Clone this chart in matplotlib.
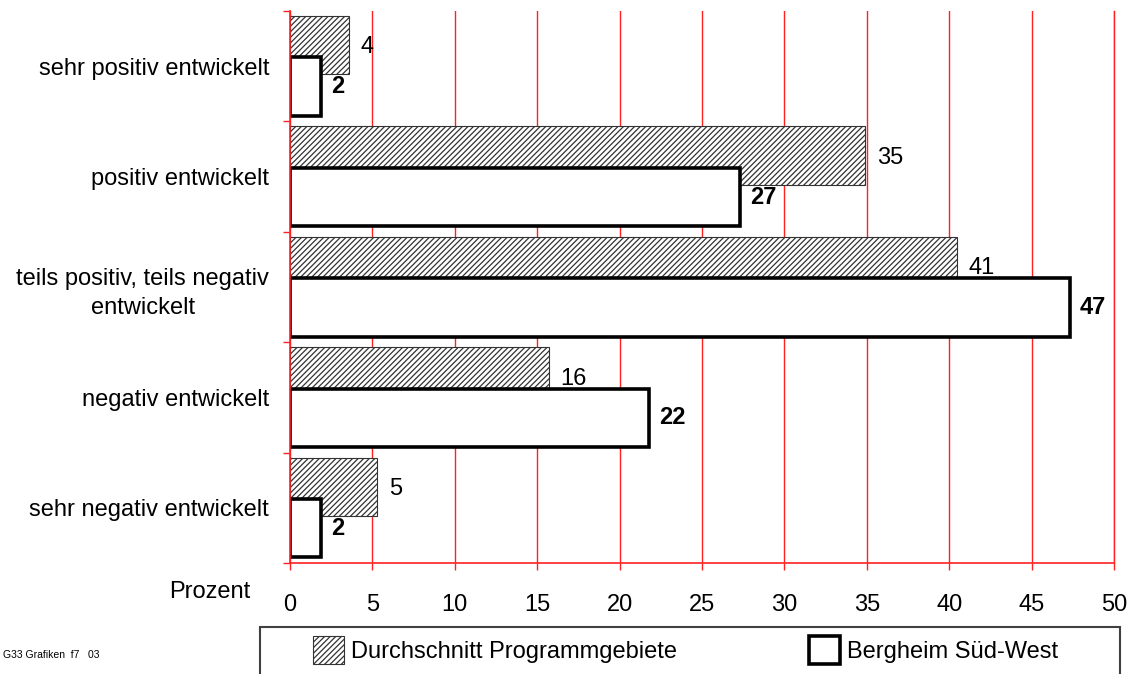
import numpy as np
import matplotlib
matplotlib.use('Agg')
import matplotlib.pyplot as plt
from matplotlib import rcParams
from matplotlib.patches import Rectangle

rcParams['font.family'] = ['Liberation Sans', 'DejaVu Sans']
rcParams['hatch.linewidth'] = 0.9

categories = ['sehr positiv entwickelt', 'positiv entwickelt',
              'teils positiv, teils negativ\nentwickelt', 'negativ entwickelt',
              'sehr negativ entwickelt']
avg_values = [3.6, 34.9, 40.5, 15.7, 5.3]      # Durchschnitt Programmgebiete
avg_labels = ['4', '35', '41', '16', '5']
bsw_values = [1.9, 27.3, 47.3, 21.8, 1.9]      # Bergheim Sued-West
bsw_labels = ['2', '27', '47', '22', '2']
xticks = np.arange(0, 55, 5)

fs = 17
red = '#ff2020'

fig = plt.figure(figsize=(11.36, 6.74), dpi=100)
ax = fig.add_axes([290/1136, 1-563/674, 824/1136, 552/674])

y = np.arange(len(categories))
h = 0.53
b1 = ax.barh(y-0.19, avg_values, height=h, color='white', edgecolor='#333333',
             hatch='//////', linewidth=0.8, zorder=3,
             label='Durchschnitt Programmgebiete')
b2 = ax.barh(y+0.185, bsw_values, height=h, color='white', edgecolor='black',
             linewidth=2.6, zorder=4, label='Bergheim Süd-West')

for yi, v, t in zip(y, avg_values, avg_labels):
    ax.text(v+0.7, yi-0.17, t, va='center', ha='left', fontsize=fs, zorder=5)
for yi, v, t in zip(y, bsw_values, bsw_labels):
    ax.text(v+0.6, yi+0.185, t, va='center', ha='left', fontsize=fs,
            fontweight='bold', zorder=5)

ax.set_xlim(0, 50)
ax.set_ylim(4.5, -0.5)
ax.set_xticks(xticks)
ax.set_xticklabels([str(v) for v in xticks], fontsize=fs)
ax.set_yticks(y)
ax.set_yticklabels(categories, fontsize=fs, ha='right', multialignment='center')
for lab in ax.get_yticklabels():
    lab.set_linespacing(1.45)
ax.set_yticks(np.arange(-0.5, 5.0, 1.0), minor=True)
ax.tick_params(axis='y', which='major', length=0, pad=15)
ax.tick_params(axis='y', which='minor', length=5, color=red, width=1)
ax.tick_params(axis='x', which='major', length=5, color=red, width=1, pad=17)
ax.xaxis.grid(True, color=red, linewidth=1, zorder=0)
ax.set_axisbelow(True)
ax.spines['top'].set_visible(False)
for s in ['left', 'bottom', 'right']:
    ax.spines[s].set_color(red)
    ax.spines[s].set_linewidth(1.2 if s != 'right' else 1)
    ax.spines[s].set_zorder(6)

fig.text(250/1136, 1-592/674, 'Prozent', ha='right', va='center', fontsize=fs)
fig.text(3/1136, 1-655/674, 'G33 Grafiken  f7   03', ha='left', va='center', fontsize=7.5)

# legend box, cut off by the lower figure edge
fig.patches.append(Rectangle((260/1136, -0.05), 860/1136, 0.05+47/674,
                             transform=fig.transFigure, facecolor='none',
                             edgecolor='#404040', linewidth=1.5))
fig.legend(handles=[b1, b2], loc='center left',
           bbox_to_anchor=(313/1136, 1-650/674), ncol=2, frameon=False,
           fontsize=fs, handlelength=1.3, handleheight=1.4, handletextpad=0.3,
           columnspacing=5.6, borderpad=0, borderaxespad=0)

plt.savefig('out.png', dpi=100)
plt.close()
